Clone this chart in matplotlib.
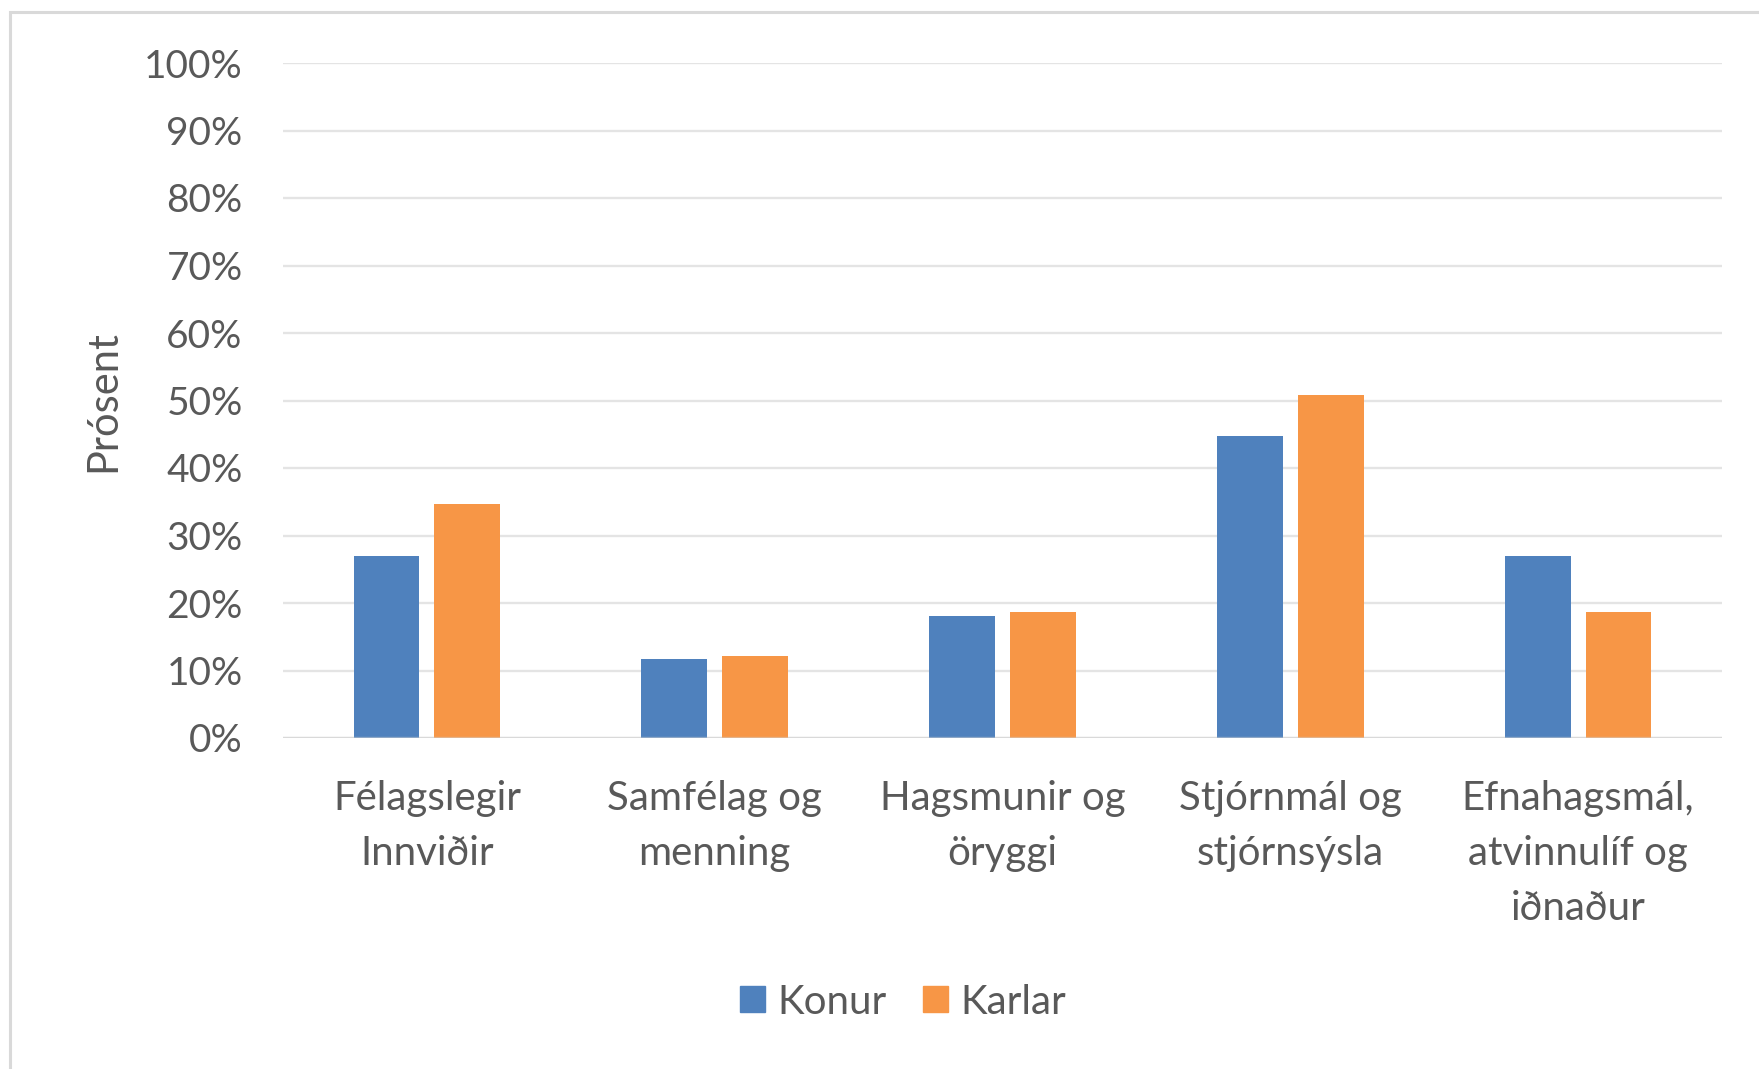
import matplotlib
matplotlib.use("Agg")
import matplotlib.pyplot as plt
from matplotlib.patches import Rectangle, Patch
import numpy as np

categories = ["Félagslegir\nInnviðir", "Samfélag og\nmenning", "Hagsmunir og\nöryggi",
              "Stjórnmál og\nstjórnsýsla", "Efnahagsmál,\natvinnulíf og\niðnaður"]
konur = [26.9, 11.7, 18.1, 44.8, 26.9]
karlar = [34.6, 12.2, 18.6, 50.8, 18.6]
series_names = ["Konur", "Karlar"]
yticks = list(range(0, 101, 10))
ytick_labels = [f"{t}%" for t in yticks]

BLUE = "#4F81BD"
ORANGE = "#F79646"
TXT = "#595959"
GRID = "#e4e4e4"

plt.rcParams['font.family'] = ['Lato', 'DejaVu Sans']

W, H = 1759, 1069
fig = plt.figure(figsize=(W / 100, H / 100), dpi=100)
fig.patch.set_facecolor("white")

left, right = 283 / W, 1722 / W
bottom, top = 1 - 738 / H, 1 - 63 / H
ax = fig.add_axes([left, bottom, right - left, top - bottom])

x = np.arange(len(categories))
bw = 0.229
off = 0.1405
ax.bar(x - off, konur, width=bw, color=BLUE, zorder=3, label=series_names[0])
ax.bar(x + off, karlar, width=bw, color=ORANGE, zorder=3, label=series_names[1])

ax.set_xlim(-0.5, len(categories) - 0.5)
ax.set_ylim(0, 100)
ax.set_yticks(yticks)
ax.set_yticklabels(ytick_labels)
for t in yticks:
    ax.axhline(t, color=GRID, lw=1.7, zorder=1)
ax.axhline(0, color="#d0d0d0", lw=1.7, alpha=0.5, zorder=4)

ax.set_xticks(x)
ax.set_xticklabels(categories, linespacing=1.6)
for s in ax.spines.values():
    s.set_visible(False)
ax.tick_params(axis='both', length=0, colors=TXT)
ax.tick_params(axis='y', pad=29, labelsize=28)
ax.tick_params(axis='x', pad=30, labelsize=29)
ax.set_facecolor("none")

ax.set_ylabel("Prósent", fontsize=30, color=TXT)
ax.yaxis.set_label_coords((122 - 283) / (1722 - 283), (738 - 401) / (738 - 63))

handles = [Patch(color=BLUE), Patch(color=ORANGE)]
fig.legend(handles, series_names, loc="center", bbox_to_anchor=(903 / W, 1 - 1002 / H),
           ncol=2, frameon=False, fontsize=29, labelcolor=TXT,
           handlelength=0.62, handleheight=0.62, handletextpad=0.3, columnspacing=0.9)

fig.patches.append(Rectangle((10 / W, -0.1), 1.2, 1 - 12 / H + 0.1, transform=fig.transFigure,
                             fill=False, edgecolor="#d9d9d9", lw=2.2, zorder=0))

fig.savefig("out.png", dpi=100, facecolor="white")
